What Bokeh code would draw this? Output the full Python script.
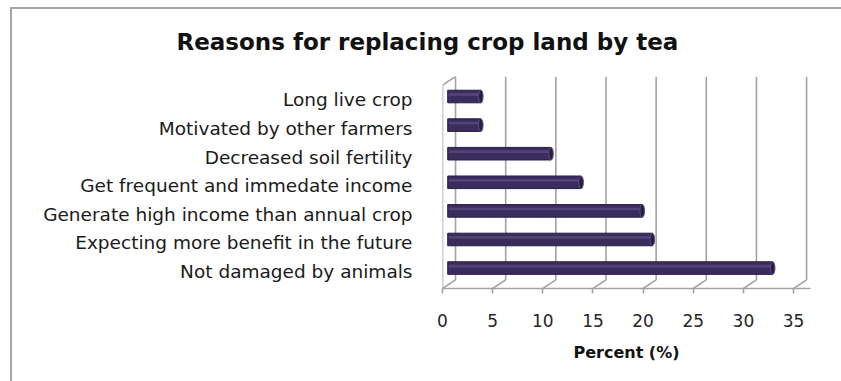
from bokeh.plotting import figure
from bokeh.models import FixedTicker, Range1d
from bokeh.embed import file_html
from bokeh.resources import INLINE

# Survey answers, bottom to top
reasons = [
    "Not damaged by animals",
    "Expecting more benefit in the future",
    "Generate high income than annual crop",
    "Get frequent and immedate income",
    "Decreased soil fertility",
    "Motivated by other farmers",
    "Long live crop",
]
percent = [32.4, 20.4, 19.4, 13.3, 10.3, 3.3, 3.3]
x_ticks = [0, 5, 10, 15, 20, 25, 30, 35]

# 3-D box geometry (in data units)
DEPTH_X = 1.3      # horizontal shift from front plane to back wall
DEPTH_Y = 0.30     # vertical shift from front plane to back wall
BAR_POS = 0.4      # bars sit this far into the depth
BAR_H = 0.44
Y_BOT = -0.594
Y_TOP = 6.82

GRID = "#a3a3a3"
FONT = "DejaVu Sans"

p = figure(
    width=841, height=381,
    output_backend="svg", toolbar_location=None,
    x_range=Range1d(0, 36.69), y_range=Range1d(Y_BOT, Y_TOP),
    min_border_left=442, min_border_right=31,
    min_border_top=76, min_border_bottom=93,
    background_fill_color=None, border_fill_alpha=0,
)
p.outline_line_color = None
p.xgrid.visible = False
p.ygrid.visible = False

# outer chart border (left and top edges visible)
p.styles = {
    "background": "white",
    "box-shadow": "inset 10px 7px 0 0 white, inset 12px 9px 0 0 #a6a6a6",
}

# title
p.title.text = "Reasons for replacing crop land by tea"
p.title.text_font = FONT
p.title.text_font_size = "23px"
p.title.text_font_style = "bold"
p.title.text_color = "#111111"
p.title.align = "left"
p.title.offset = -266
p.title.standoff = 44

# back wall gridlines, floor slants, left wall
gx = [t + DEPTH_X for t in x_ticks]
p.segment(x0=gx, y0=[Y_BOT + DEPTH_Y] * len(gx), x1=gx, y1=[Y_TOP] * len(gx),
          line_color=GRID, line_width=1.6)
p.segment(x0=x_ticks, y0=[Y_BOT] * len(x_ticks), x1=gx, y1=[Y_BOT + DEPTH_Y] * len(gx),
          line_color=GRID, line_width=1.6)
p.segment(x0=[0, 0], y0=[Y_BOT, Y_TOP - DEPTH_Y], x1=[0, DEPTH_X], y1=[Y_TOP - DEPTH_Y, Y_TOP],
          line_color=GRID, line_width=1.6)

# bars
ys = [i + BAR_POS * DEPTH_Y for i in range(len(reasons))]
x0 = BAR_POS * DEPTH_X
ends = [v + x0 for v in percent]
p.hbar(y=ys, left=x0, right=ends, height=BAR_H,
       fill_color="#3b2c5e", line_color="#271c42", line_width=1)
p.hbar(y=[y + BAR_H * 0.16 for y in ys], left=x0 + 0.1, right=ends, height=BAR_H * 0.22,
       fill_color="#514277", line_color=None)
p.ellipse(x=ends, y=ys, width=0.45, height=BAR_H,
          fill_color="#281d43", line_color="#5a4c7c", line_width=1)

# x axis (front floor edge)
xa = p.xaxis[0]
xa.ticker = FixedTicker(ticks=x_ticks)
xa.axis_line_color = GRID
xa.axis_line_width = 1.6
xa.major_tick_line_color = GRID
xa.major_tick_line_width = 1.6
xa.major_tick_out = 5
xa.major_tick_in = 0
xa.minor_tick_line_color = None
xa.major_label_standoff = 20
xa.major_label_text_font = FONT
xa.major_label_text_font_size = "17px"
xa.major_label_text_color = "#262626"
xa.axis_label = "Percent (%)"
xa.axis_label_text_font = FONT
xa.axis_label_text_font_size = "16px"
xa.axis_label_text_font_style = "bold"
xa.axis_label_text_color = "#111111"
xa.axis_label_standoff = 13

# y axis carries the category names
ya = p.yaxis[0]
ya.ticker = FixedTicker(ticks=list(range(len(reasons))))
ya.major_label_overrides = {i: r for i, r in enumerate(reasons)}
ya.axis_line_color = None
ya.major_tick_line_color = None
ya.minor_tick_line_color = None
ya.major_label_standoff = 24
ya.major_label_text_font = FONT
ya.major_label_text_font_size = "18.5px"
ya.major_label_text_color = "#1a1a1a"

open("out.html", "w").write(file_html(p, INLINE))
